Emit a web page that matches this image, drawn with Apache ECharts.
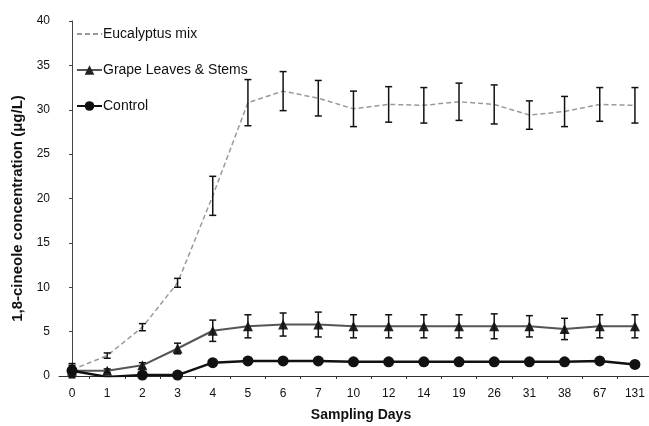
<!DOCTYPE html>
<html>
<head>
<meta charset="utf-8">
<script src="https://cdn.jsdelivr.net/npm/echarts@6/dist/echarts.min.js"></script>
<style>
  html, body { margin: 0; padding: 0; background: #fff; }
  #chart { width: 649px; height: 426px; }
</style>
</head>
<body>
<div id="chart"></div>
<script>
const days = ['0', '1', '2', '3', '4', '5', '6', '7', '10', '12', '14', '19', '26', '31', '38', '67', '131']

const eucalyptus = [0.7, 2.3, 5.5, 10.5, 20.3, 30.8, 32.1, 31.3, 30.1, 30.6, 30.5, 30.9, 30.6, 29.4, 29.8, 30.6, 30.5]
const eucalyptusErr = [0.3, 0.3, 0.4, 0.5, 2.2, 2.6, 2.2, 2.0, 2.0, 2.0, 2.0, 2.1, 2.2, 1.6, 1.7, 1.9, 2.0]

const grape = [0.6, 0.6, 1.2, 3.1, 5.1, 5.6, 5.8, 5.8, 5.6, 5.6, 5.6, 5.6, 5.6, 5.6, 5.3, 5.6, 5.6]
const grapeErr = [0.8, 0.2, 0.3, 0.6, 1.2, 1.3, 1.3, 1.4, 1.3, 1.3, 1.3, 1.3, 1.4, 1.2, 1.2, 1.3, 1.3]

const control = [0.6, -0.1, 0.1, 0.1, 1.5, 1.7, 1.7, 1.7, 1.6, 1.6, 1.6, 1.6, 1.6, 1.6, 1.6, 1.7, 1.3]
const controlErr = [0.6, 0, 0, 0, 0, 0, 0, 0, 0, 0, 0, 0, 0, 0, 0, 0, 0]

const yTicks = [0, 5, 10, 15, 20, 25, 30, 35, 40]

const chart = echarts.init(document.getElementById('chart'))

const toPoints = (vals) => vals.map((v, i) => [i, v])
const toBars = (vals, errs) => vals.map((v, i) => [i, v - errs[i], v + errs[i]])

// vertical error bars with small caps
const errorBars = (name, vals, errs) => ({
  type: 'custom',
  name: name,
  z: 5,
  silent: true,
  renderItem(params, api) {
    const lo = api.coord([api.value(0), api.value(1)])
    const hi = api.coord([api.value(0), api.value(2)])
    if (Math.abs(hi[1] - lo[1]) < 2) return null
    const w = 3.5
    const style = { stroke: '#111', lineWidth: 1.5 }
    return {
      type: 'group',
      children: [
        { type: 'line', shape: { x1: lo[0], y1: lo[1], x2: hi[0], y2: hi[1] }, style },
        { type: 'line', shape: { x1: hi[0] - w, y1: hi[1], x2: hi[0] + w, y2: hi[1] }, style },
        { type: 'line', shape: { x1: lo[0] - w, y1: lo[1], x2: lo[0] + w, y2: lo[1] }, style }
      ]
    }
  },
  encode: { x: 0, y: [1, 2] },
  data: toBars(vals, errs)
})

const option = {
  animation: false,
  textStyle: { fontFamily: 'Liberation Sans, Arial, sans-serif', color: '#000' },
  legend: {
    orient: 'vertical',
    left: 71,
    top: 22,
    itemWidth: 25,
    itemHeight: 12,
    itemGap: 22,
    textStyle: { fontSize: 14, color: '#111', padding: [0, 0, 0, -4] },
    data: [
      { name: 'Eucalyptus mix', itemStyle: { opacity: 0 } },
      'Grape Leaves & Stems',
      'Control'
    ]
  },
  grid: {
    left: 59,
    top: 21,
    width: 590,
    height: 355,
    outerBoundsMode: 'none'
  },
  xAxis: {
    type: 'value',
    min: -0.37,
    max: 16.4,
    name: 'Sampling Days',
    nameLocation: 'middle',
    nameGap: 32,
    nameTextStyle: { fontSize: 14, fontWeight: 'bold', color: '#111', padding: [0, 0, 0, 14] },
    axisLine: { lineStyle: { color: '#333', width: 1 } },
    axisTick: {
      show: true,
      length: 3,
      customValues: days.slice(0, -1).map((d, i) => i + 0.5),
      lineStyle: { color: '#333' }
    },
    axisLabel: {
      fontSize: 12,
      color: '#111',
      margin: 12,
      customValues: days.map((d, i) => i),
      formatter: (v) => days[Math.round(v)]
    },
    splitLine: { show: false }
  },
  yAxis: {
    type: 'value',
    min: 0,
    max: 40,
    interval: 5,
    name: '1,8-cineole concentration (μg/L)',
    nameLocation: 'middle',
    nameGap: 32,
    nameTextStyle: { fontSize: 15, fontWeight: 'bold', color: '#111', padding: [0, 20, 0, 0] },
    axisLine: { show: true, lineStyle: { color: '#444', width: 1 } },
    axisTick: { show: true, length: 3, lineStyle: { color: '#444' } },
    axisLabel: {
      fontSize: 12,
      color: '#111',
      margin: 9,
      customValues: yTicks
    },
    splitLine: { show: false }
  },
  series: [
    {
      name: 'Eucalyptus mix',
      type: 'line',
      symbol: 'none',
      lineStyle: { color: '#9a9a9a', width: 1.5, type: [5, 3] },
      itemStyle: { color: '#9a9a9a' },
      data: toPoints(eucalyptus)
    },
    {
      name: 'Grape Leaves & Stems',
      type: 'line',
      symbol: 'triangle',
      symbolSize: 10,
      lineStyle: { color: '#555', width: 2 },
      itemStyle: { color: '#222' },
      data: toPoints(grape)
    },
    {
      name: 'Control',
      type: 'line',
      symbol: 'circle',
      symbolSize: 11,
      lineStyle: { color: '#111', width: 2.5 },
      itemStyle: { color: '#111' },
      data: toPoints(control)
    },
    errorBars('Eucalyptus mix', eucalyptus, eucalyptusErr),
    errorBars('Grape Leaves & Stems', grape, grapeErr),
    errorBars('Control', control, controlErr)
  ]
}

chart.setOption(option)
</script>
</body>
</html>
